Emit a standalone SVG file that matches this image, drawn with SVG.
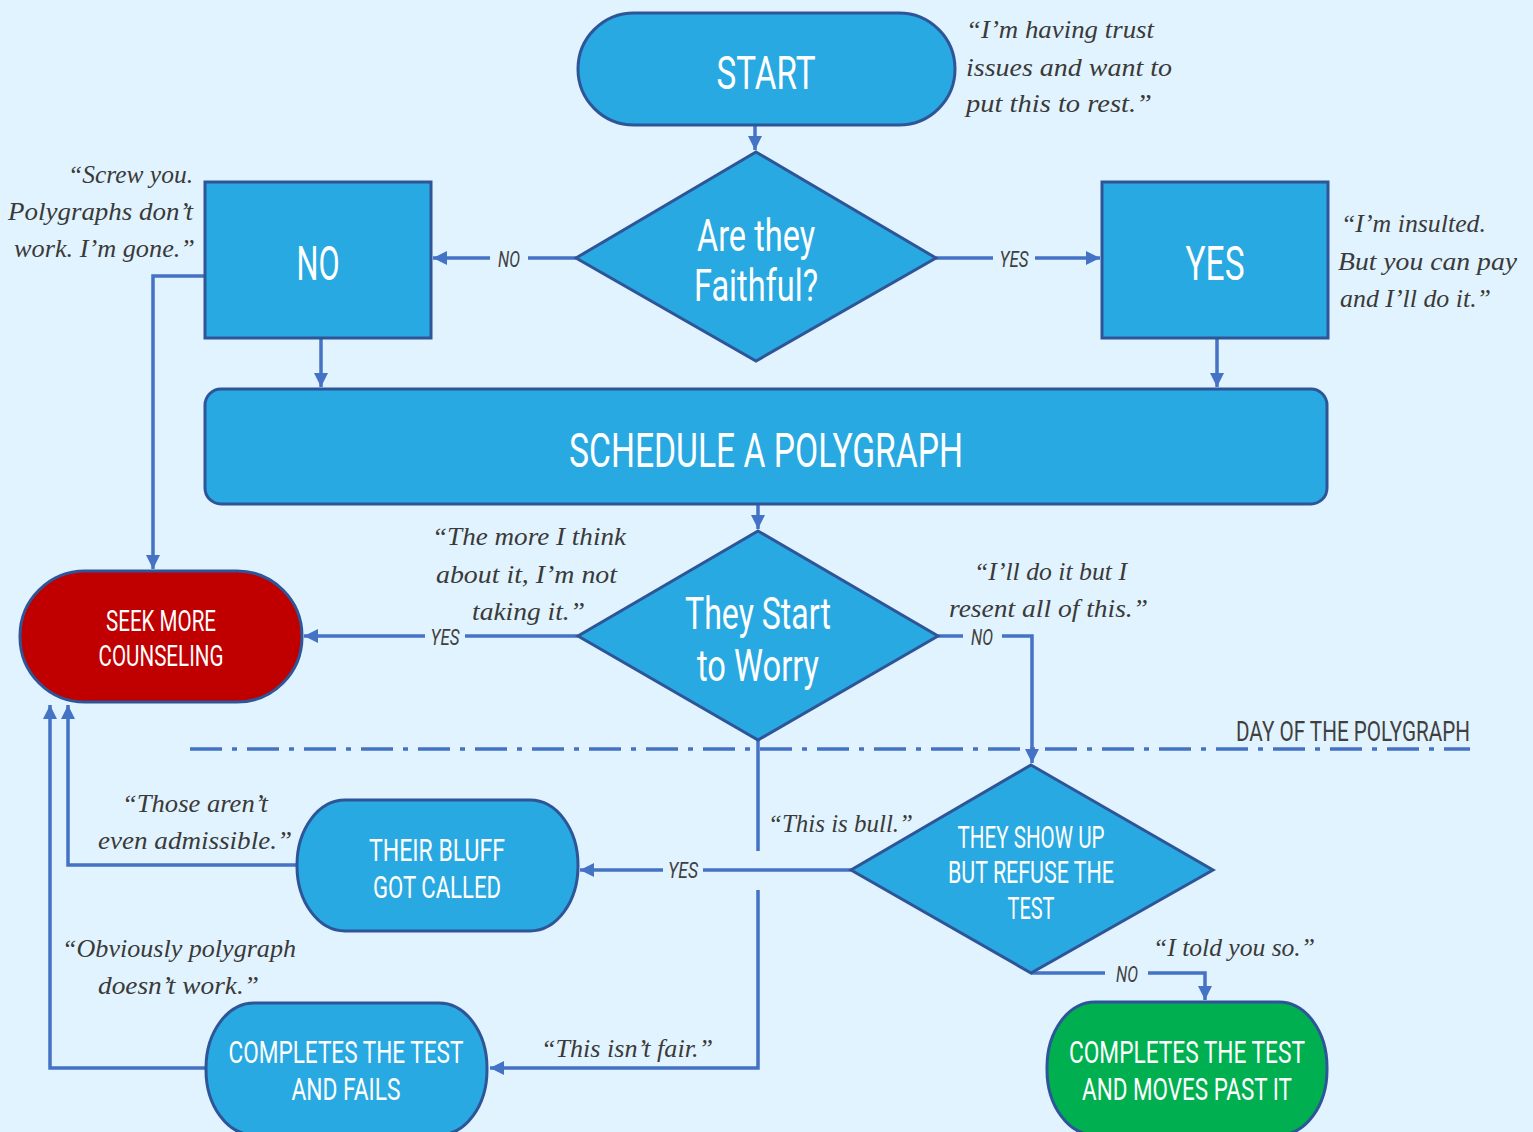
<svg xmlns="http://www.w3.org/2000/svg" width="1533" height="1132" viewBox="0 0 1533 1132">
<style>
.bg{fill:#e1f3fe}
.node{fill:#29a9e1;stroke:#2e5597;stroke-width:3}
.red{fill:#c00000}
.green{fill:#00b050}
.nt{font-family:Roboto,"DejaVu Sans Condensed",sans-serif;fill:#ffffff;text-anchor:middle}
.q{font-family:"Liberation Serif",serif;font-style:italic;font-size:25px;fill:#3a3a3a}
.lbl{font-family:Roboto,"DejaVu Sans Condensed",sans-serif;font-style:italic;font-size:22px;fill:#404040;text-anchor:middle}
.c{fill:none;stroke:#4472c4;stroke-width:3.5}
.day{font-family:Roboto,"DejaVu Sans Condensed",sans-serif;font-size:27px;fill:#404040;text-anchor:end}
</style>
<defs>
<marker id="ah" markerUnits="userSpaceOnUse" markerWidth="16" markerHeight="16" refX="14" refY="7" orient="auto">
<path d="M0,0 L14,7 L0,14 Z" fill="#4472c4"/>
</marker>
</defs>
<rect class="bg" x="0" y="0" width="1533" height="1132"/>

<g id="connectors">
<path class="c" d="M755 125 V150" marker-end="url(#ah)"/>
<path class="c" d="M576 258 H528"/>
<path class="c" d="M490 258 H433" marker-end="url(#ah)"/>
<path class="c" d="M936 258 H993"/>
<path class="c" d="M1035 258 H1100" marker-end="url(#ah)"/>
<path class="c" d="M321 338 V387" marker-end="url(#ah)"/>
<path class="c" d="M1217 338 V387" marker-end="url(#ah)"/>
<path class="c" d="M205 276 H153 V569" marker-end="url(#ah)"/>
<path class="c" d="M758 504 V529" marker-end="url(#ah)"/>
<path class="c" d="M578 636 H465"/>
<path class="c" d="M425 636 H304" marker-end="url(#ah)"/>
<path class="c" d="M938 636 H963"/>
<path class="c" d="M1002 636 H1032 V763" marker-end="url(#ah)"/>
<path class="c" d="M851 870 H703"/>
<path class="c" d="M663 870 H580" marker-end="url(#ah)"/>
<path class="c" d="M758 740 V851"/>
<path class="c" d="M758 890 V1068 H490" marker-end="url(#ah)"/>
<path class="c" d="M297 865 H68 V705" marker-end="url(#ah)"/>
<path class="c" d="M206 1068 H50 V705" marker-end="url(#ah)"/>
<path class="c" d="M1031 973 H1105"/>
<path class="c" d="M1148 973 H1205 V1000" marker-end="url(#ah)"/>
<path d="M190 749 H1470" fill="none" stroke="#4472c4" stroke-width="3.5" stroke-dasharray="32 10 5 10"/>
<text class="lbl" x="509" y="267" textLength="22" lengthAdjust="spacingAndGlyphs">NO</text>
<text class="lbl" x="1014" y="267" textLength="29" lengthAdjust="spacingAndGlyphs">YES</text>
<text class="lbl" x="445" y="645" textLength="29" lengthAdjust="spacingAndGlyphs">YES</text>
<text class="lbl" x="982" y="645" textLength="22" lengthAdjust="spacingAndGlyphs">NO</text>
<text class="lbl" x="683" y="878" textLength="30" lengthAdjust="spacingAndGlyphs">YES</text>
<text class="lbl" x="1127" y="982" textLength="22" lengthAdjust="spacingAndGlyphs">NO</text>
</g>

<g id="start">
<rect class="node" x="578" y="13" width="377" height="112" rx="56" ry="56"/>
<text class="nt" x="766" y="89" font-size="46" textLength="99" lengthAdjust="spacingAndGlyphs">START</text>
</g>
<g id="faithful">
<polygon class="node" points="756,152 936,258 756,361 576,258"/>
<text class="nt" x="756" y="251" font-size="44" textLength="118" lengthAdjust="spacingAndGlyphs">Are they</text>
<text class="nt" x="756" y="301" font-size="44" textLength="124" lengthAdjust="spacingAndGlyphs">Faithful?</text>
</g>
<g id="no">
<rect class="node" x="205" y="182" width="226" height="156"/>
<text class="nt" x="318" y="280" font-size="48" textLength="43" lengthAdjust="spacingAndGlyphs">NO</text>
</g>
<g id="yes">
<rect class="node" x="1102" y="182" width="226" height="156"/>
<text class="nt" x="1215" y="280" font-size="48" textLength="59" lengthAdjust="spacingAndGlyphs">YES</text>
</g>
<g id="schedule">
<rect class="node" x="205" y="389" width="1122" height="115" rx="16" ry="16"/>
<text class="nt" x="766" y="467" font-size="48" textLength="394" lengthAdjust="spacingAndGlyphs">SCHEDULE A POLYGRAPH</text>
</g>
<g id="seek">
<rect class="node red" x="20" y="571" width="282" height="131" rx="65" ry="65"/>
<text class="nt" x="161" y="631" font-size="29" textLength="110" lengthAdjust="spacingAndGlyphs">SEEK MORE</text>
<text class="nt" x="161" y="666" font-size="29" textLength="125" lengthAdjust="spacingAndGlyphs">COUNSELING</text>
</g>
<g id="worry">
<polygon class="node" points="758,531 938,636 758,740 578,636"/>
<text class="nt" x="758" y="629" font-size="44" textLength="146" lengthAdjust="spacingAndGlyphs">They Start</text>
<text class="nt" x="758" y="681" font-size="44" textLength="122" lengthAdjust="spacingAndGlyphs">to Worry</text>
</g>
<g id="refuse">
<polygon class="node" points="1031,765 1213,870 1031,973 851,870"/>
<text class="nt" x="1031" y="848" font-size="31" textLength="147" lengthAdjust="spacingAndGlyphs">THEY SHOW UP</text>
<text class="nt" x="1031" y="883" font-size="31" textLength="166" lengthAdjust="spacingAndGlyphs">BUT REFUSE THE</text>
<text class="nt" x="1031" y="919" font-size="31" textLength="47" lengthAdjust="spacingAndGlyphs">TEST</text>
</g>
<g id="bluff">
<rect class="node" x="297" y="800" width="281" height="131" rx="48" ry="65"/>
<text class="nt" x="437" y="861" font-size="32" textLength="136" lengthAdjust="spacingAndGlyphs">THEIR BLUFF</text>
<text class="nt" x="437" y="898" font-size="32" textLength="128" lengthAdjust="spacingAndGlyphs">GOT CALLED</text>
</g>
<g id="fails">
<rect class="node" x="206" y="1003" width="281" height="132" rx="48" ry="65"/>
<text class="nt" x="346" y="1063" font-size="32" textLength="235" lengthAdjust="spacingAndGlyphs">COMPLETES THE TEST</text>
<text class="nt" x="346" y="1100" font-size="32" textLength="109" lengthAdjust="spacingAndGlyphs">AND FAILS</text>
</g>
<g id="pass">
<rect class="node green" x="1047" y="1002" width="280" height="133" rx="48" ry="65"/>
<text class="nt" x="1187" y="1063" font-size="32" textLength="236" lengthAdjust="spacingAndGlyphs">COMPLETES THE TEST</text>
<text class="nt" x="1187" y="1100" font-size="32" textLength="210" lengthAdjust="spacingAndGlyphs">AND MOVES PAST IT</text>
</g>

<g id="quotes">
<text class="q" x="966" y="38" textLength="188" lengthAdjust="spacingAndGlyphs">“I’m having trust</text>
<text class="q" x="966" y="76" textLength="206" lengthAdjust="spacingAndGlyphs">issues and want to</text>
<text class="q" x="966" y="112" textLength="186" lengthAdjust="spacingAndGlyphs">put this to rest.”</text>
<text class="q" x="68" y="183" textLength="125" lengthAdjust="spacingAndGlyphs">“Screw you.</text>
<text class="q" x="8" y="220" textLength="185" lengthAdjust="spacingAndGlyphs">Polygraphs don’t</text>
<text class="q" x="14" y="257" textLength="181" lengthAdjust="spacingAndGlyphs">work. I’m gone.”</text>
<text class="q" x="1341" y="232" textLength="145" lengthAdjust="spacingAndGlyphs">“I’m insulted.</text>
<text class="q" x="1338" y="270" textLength="179" lengthAdjust="spacingAndGlyphs">But you can pay</text>
<text class="q" x="1340" y="307" textLength="151" lengthAdjust="spacingAndGlyphs">and I’ll do it.”</text>
<text class="q" x="432" y="545" textLength="194" lengthAdjust="spacingAndGlyphs">“The more I think</text>
<text class="q" x="436" y="583" textLength="181" lengthAdjust="spacingAndGlyphs">about it, I’m not</text>
<text class="q" x="472" y="620" textLength="113" lengthAdjust="spacingAndGlyphs">taking it.”</text>
<text class="q" x="974" y="580" textLength="153" lengthAdjust="spacingAndGlyphs">“I’ll do it but I</text>
<text class="q" x="949" y="617" textLength="199" lengthAdjust="spacingAndGlyphs">resent all of this.”</text>
<text class="q" x="122" y="812" textLength="146" lengthAdjust="spacingAndGlyphs">“Those aren’t</text>
<text class="q" x="98" y="849" textLength="194" lengthAdjust="spacingAndGlyphs">even admissible.”</text>
<text class="q" x="768" y="832" textLength="145" lengthAdjust="spacingAndGlyphs">“This is bull.”</text>
<text class="q" x="62" y="957" textLength="234" lengthAdjust="spacingAndGlyphs">“Obviously polygraph</text>
<text class="q" x="98" y="994" textLength="161" lengthAdjust="spacingAndGlyphs">doesn’t work.”</text>
<text class="q" x="541" y="1057" textLength="172" lengthAdjust="spacingAndGlyphs">“This isn’t fair.”</text>
<text class="q" x="1153" y="956" textLength="162" lengthAdjust="spacingAndGlyphs">“I told you so.”</text>
<text class="day" x="1470" y="741" textLength="234" lengthAdjust="spacingAndGlyphs">DAY OF THE POLYGRAPH</text>
</g>
</svg>
